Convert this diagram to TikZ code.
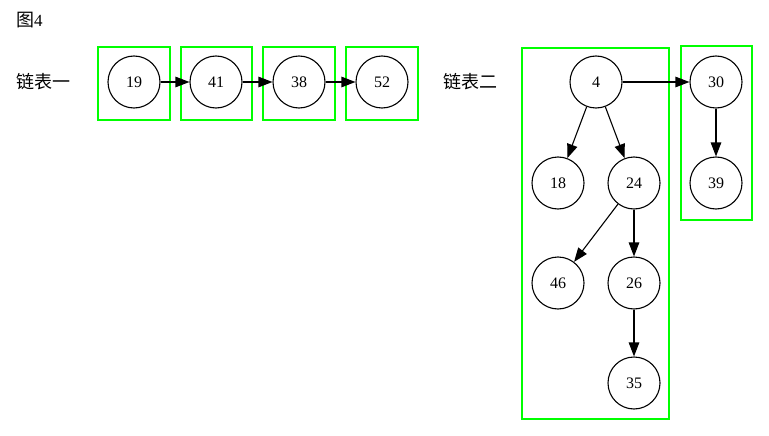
\documentclass[tikz,border=0pt]{standalone}
\usepackage{fontspec}
\setmainfont{Liberation Serif}
\newfontfamily\cjk{Noto Sans CJK SC}
\usetikzlibrary{arrows.meta}
\definecolor{boxgreen}{RGB}{0,255,0}
\begin{document}
\begin{tikzpicture}[x=1pt,y=-1pt,
  nd/.style={circle,draw=black,line width=1.1pt,minimum size=52pt,inner sep=0pt,font=\fontsize{16}{16}\selectfont},
  grp/.style={draw=boxgreen,line width=1.1pt},
  lbl/.style={inner sep=0pt,font=\cjk\fontsize{18}{18}\selectfont},
  conn/.style={draw=black,line width=1.1pt,-{Triangle[length=14pt,width=10.5pt]}}]
\useasboundingbox (0,0) rectangle (769,436);
% group boxes
\draw[grp] (98,47) rectangle (170,120);
\draw[grp] (181,47) rectangle (252,120);
\draw[grp] (263,47) rectangle (335,120);
\draw[grp] (346,47) rectangle (418,120);
\draw[grp] (522,48) rectangle (669,419);
\draw[grp] (681,46) rectangle (752,220);
% labels
\node[lbl,anchor=west] (fig) at (16,20) {图{\rmfamily\fontsize{17}{17}\selectfont 4}};
\node[lbl,anchor=west] (l1) at (16,82) {链表一};
\node[lbl,anchor=west] (l2) at (443,82) {链表二};
% list one
\node[nd] (n19) at (134,82) {19};
\node[nd] (n41) at (216,82) {41};
\node[nd] (n38) at (299,82) {38};
\node[nd] (n52) at (382,82) {52};
\draw[conn] (n19) -- (n41);
\draw[conn] (n41) -- (n38);
\draw[conn] (n38) -- (n52);
% list two
\node[nd] (n4) at (596,82) {4};
\node[nd] (n30) at (716,82) {30};
\node[nd] (n18) at (558,183) {18};
\node[nd] (n24) at (634,183) {24};
\node[nd] (n39) at (716,183) {39};
\node[nd] (n46) at (558,283) {46};
\node[nd] (n26) at (634,283) {26};
\node[nd] (n35) at (634,383) {35};
\draw[conn] (n4) -- (n30);
\draw[conn] (n4) -- (n18);
\draw[conn] (n4) -- (n24);
\draw[conn] (n30) -- (n39);
\draw[conn] (n24) -- (n46);
\draw[conn] (n24) -- (n26);
\draw[conn] (n26) -- (n35);
\end{tikzpicture}
\end{document}
